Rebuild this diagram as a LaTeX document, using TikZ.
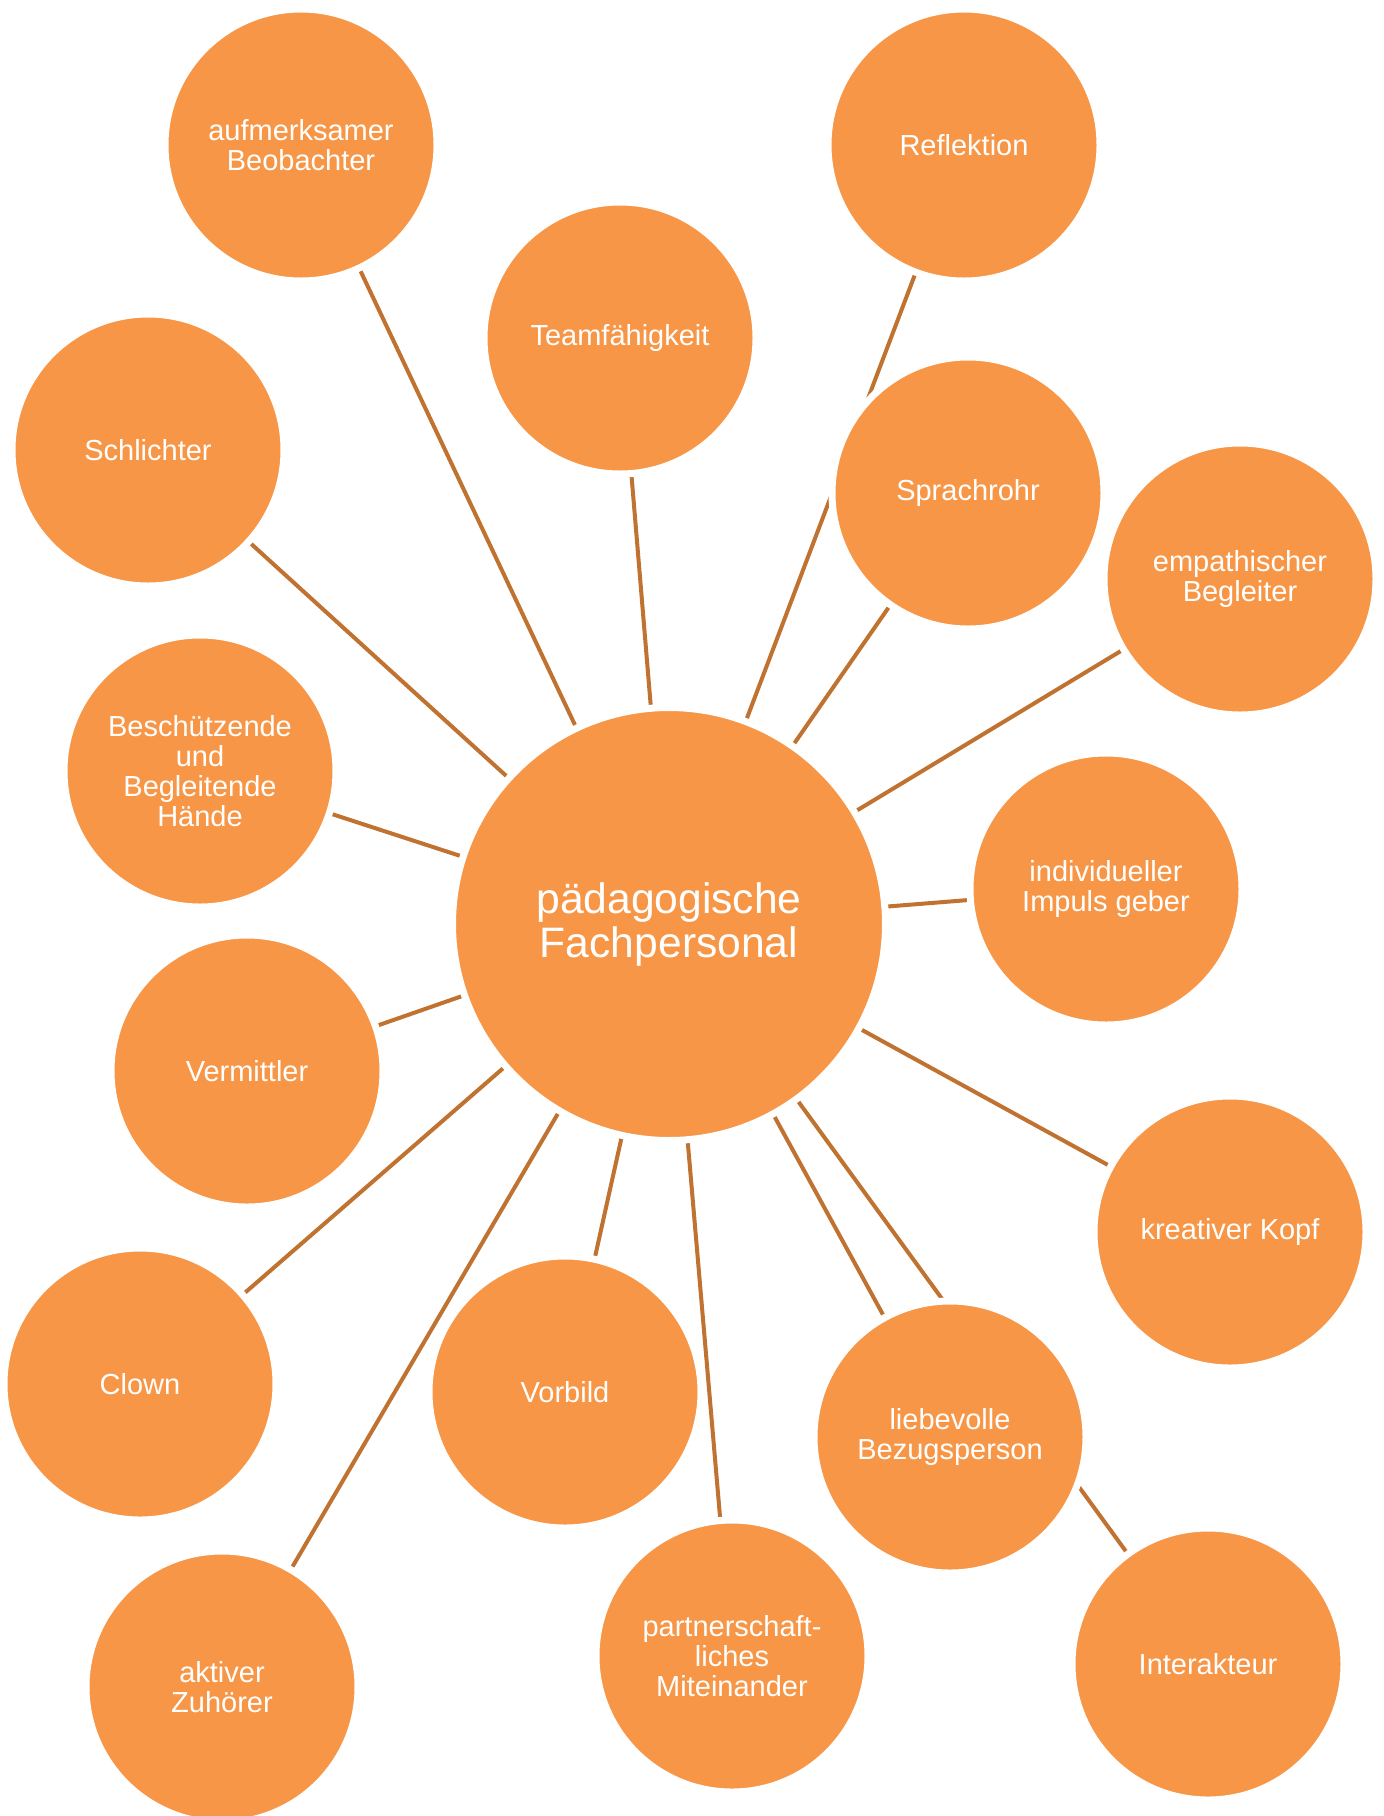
\documentclass[tikz,border=0pt]{standalone}
\usepackage{fontspec}
\setmainfont{Liberation Sans}
\usetikzlibrary{backgrounds}
\definecolor{bubblefill}{RGB}{247,150,70}
\definecolor{linkcol}{RGB}{192,114,48}
\tikzset{
  role/.style={circle, fill=bubblefill, draw=white, line width=3.5pt, outer sep=0pt,
    inner sep=0pt, minimum size=136pt, align=center, text=white,
    font=\fontsize{14.5}{15}\selectfont},
  hub/.style={role, minimum size=216.5pt, font=\fontsize{21.3}{22}\selectfont},
  link/.style={draw=linkcol, line width=2pt}
}
\begin{document}
\begin{tikzpicture}[x=0.5pt,y=-0.5pt]
            \useasboundingbox (0,0) rectangle (1384,1816);
            \node[hub] (fach) at (669,924) {p\"adagogische\\Fachpersonal};
            \node[role] (beob) at (301,145) {aufmerksamer\\Beobachter};
            \node[role] (team) at (620,338) {Teamf\"ahigkeit};
            \node[role] (refl) at (964,145) {Reflektion};
            \node[role] (schl) at (148,450) {Schlichter};
            \node[role] (sprach) at (968,493) {Sprachrohr};
            \node[role] (empa) at (1240,579) {empathischer\\Begleiter};
            \node[role] (haende) at (200,771) {Besch\"utzende\\und\\Begleitende\\H\"ande};
            \node[role] (impuls) at (1106,889) {individueller\\Impuls geber};
            \node[role] (verm) at (247,1071) {Vermittler};
            \node[role] (kopf) at (1230,1232) {kreativer Kopf};
            \node[role] (clown) at (140,1384) {Clown};
            \node[role] (vorbild) at (565,1392) {Vorbild};
            \node[role] (bezug) at (950,1437) {liebevolle\\Bezugsperson};
            \node[role] (zuhoer) at (222,1687) {aktiver\\Zuh\"orer};
            \node[role] (partner) at (732,1656) {partnerschaft-\\liches\\Miteinander};
            \node[role] (inter) at (1208,1664) {Interakteur};
            \begin{scope}[on background layer]
            \foreach \n in {beob,team,refl,schl,sprach,empa,haende,impuls,verm,kopf,clown,vorbild,bezug,zuhoer,partner,inter}
              \draw[link] (fach.center) -- (\n.center);
            \end{scope}
        \end{tikzpicture}
\end{document}
